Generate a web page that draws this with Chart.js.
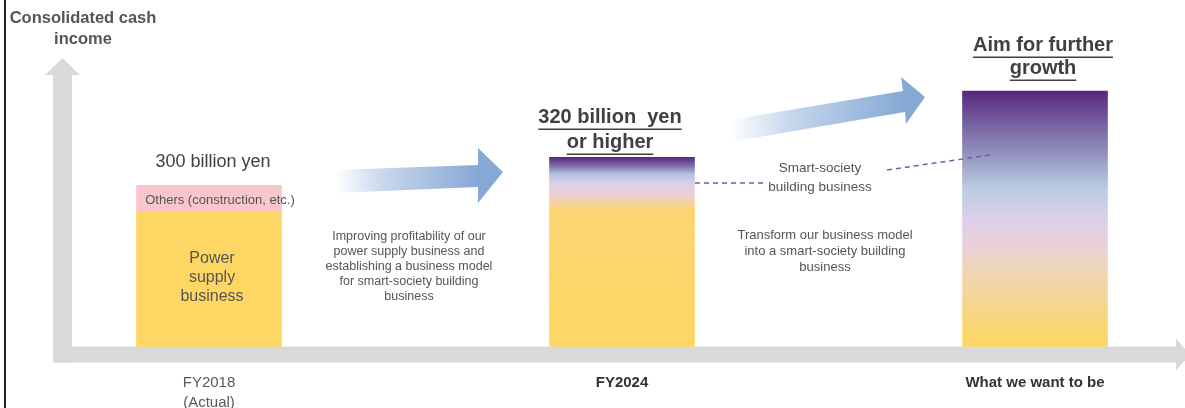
<!DOCTYPE html>
<html>
<head>
<meta charset="utf-8">
<script src="https://cdn.jsdelivr.net/npm/chart.js@4.4.0/dist/chart.umd.min.js"></script>
<style>
  html, body { margin: 0; padding: 0; background: #fff; }
  #wrap { width: 1185px; height: 408px; position: relative; }
</style>
</head>
<body>
<div id="wrap"><canvas id="cashChart"></canvas></div>
<script>
// categories along the bottom arrow
const categories = [['FY2018', '(Actual)'], 'FY2024', 'What we want to be'];

// bar heights as drawn (300 is the reference bar, the other two are schematic)
const powerSupply = [250, null, null];
const others = [50, null, null];
const outlook = [null, 352, 475];

// texts printed on / around the bars
const barLabels = [['300 billion yen'], ['320 billion  yen', 'or higher'], ['Aim for further', 'growth']];
const stepNotes = [
  ['Improving profitability of our', 'power supply business and', 'establishing a business model', 'for smart-society building', 'business'],
  ['Transform our business model', 'into a smart-society building', 'business']
];

const FONT = '"Liberation Sans", Arial, sans-serif';
const GREY = '#d9d9d9';

// gradient stops for the two outlook bars (top -> bottom)
const gradStops = {
  1: [[0, '#57277e'], [0.04, '#7a62a6'], [0.09, '#b4c3de'], [0.14, '#dacfea'], [0.2, '#eecfd0'], [0.28, '#fbd571'], [1, '#fdd663']],
  2: [[0, '#57277e'], [0.11, '#735a9c'], [0.22, '#8b88b8'], [0.38, '#b9cce2'], [0.49, '#dad0ea'], [0.6, '#e9d0dc'], [0.7, '#eed6b8'], [0.9, '#f9d67a'], [1, '#fdd663']]
};

function outlookColor(c) {
  const chart = c.chart;
  if (!chart.chartArea || c.raw == null) return '#fdd663';
  const y = chart.scales.y;
  const top = y.getPixelForValue(c.raw);
  const bottom = y.getPixelForValue(0);
  const g = chart.ctx.createLinearGradient(0, top, 0, bottom);
  (gradStops[c.dataIndex] || [[0, '#fdd663'], [1, '#fdd663']]).forEach(s => g.addColorStop(s[0], s[1]));
  return g;
}

function centerText(ctx, lines, x, y, lh, font, color, underline) {
  ctx.save();
  ctx.font = font;
  ctx.fillStyle = color;
  ctx.textAlign = 'center';
  ctx.textBaseline = 'middle';
  lines.forEach((t, i) => {
    const yy = y + i * lh;
    ctx.fillText(t, x, yy);
    if (underline) {
      const w = ctx.measureText(t).width;
      ctx.strokeStyle = color;
      ctx.lineWidth = 1.5;
      ctx.beginPath();
      ctx.moveTo(x - w / 2, yy + 12);
      ctx.lineTo(x + w / 2, yy + 12);
      ctx.stroke();
    }
  });
  ctx.restore();
}

function poly(ctx, pts, fill) {
  ctx.beginPath();
  pts.forEach((p, i) => i ? ctx.lineTo(p[0], p[1]) : ctx.moveTo(p[0], p[1]));
  ctx.closePath();
  ctx.fillStyle = fill;
  ctx.fill();
}

function blueArrow(ctx, pts, x0, x1) {
  const g = ctx.createLinearGradient(x0, 0, x1, 0);
  g.addColorStop(0, 'rgba(255,255,255,1)');
  g.addColorStop(0.35, '#c6d6ec');
  g.addColorStop(1, '#86a8d5');
  poly(ctx, pts, g);
}

function dashed(ctx, x0, y0, x1, y1) {
  ctx.save();
  ctx.strokeStyle = '#7d5a9e';
  ctx.lineWidth = 1.5;
  ctx.setLineDash([5, 4]);
  ctx.beginPath();
  ctx.moveTo(x0, y0);
  ctx.lineTo(x1, y1);
  ctx.stroke();
  ctx.restore();
}

const decor = {
  id: 'decor',
  beforeDatasetsDraw(chart) {
    const ctx = chart.ctx;
    const base = chart.chartArea.bottom;
    ctx.save();
    // frame line on the left
    ctx.fillStyle = '#222';
    ctx.fillRect(4, 0, 2, chart.height);
    // y axis arrow
    ctx.fillStyle = GREY;
    ctx.fillRect(53, 75, 19, base + 16 - 75);
    poly(ctx, [[45, 75], [62.5, 58], [80, 75]], GREY);
    // x axis arrow
    ctx.fillRect(53, base, 1124, 16);
    poly(ctx, [[1176, base - 8], [1190, base + 8], [1176, base + 24]], GREY);
    ctx.restore();
  },
  afterDatasetsDraw(chart) {
    const ctx = chart.ctx;
    const x = chart.scales.x, y = chart.scales.y;
    const bold = '700 20px ' + FONT;
    const dark = '#404040';

    // axis title
    centerText(ctx, ['Consolidated cash', 'income'], 83, 18, 21, '700 16.5px ' + FONT, '#555', false);

    // bar 1 texts
    const x1 = x.getPixelForValue(0);
    const top1 = y.getPixelForValue(powerSupply[0] + others[0]);
    centerText(ctx, barLabels[0], x1 + 4, top1 - 23, 20, '18px ' + FONT, dark, false);
    centerText(ctx, ['Others (construction, etc.)'], x1 + 11, y.getPixelForValue(powerSupply[0] + others[0] / 2) + 2, 16, '13px ' + FONT, '#555', false);
    centerText(ctx, ['Power', 'supply', 'business'], x1 + 3, 259, 19, '16px ' + FONT, '#555', false);

    // bar 2 and bar 3 titles
    const x2 = x.getPixelForValue(1);
    centerText(ctx, barLabels[1], x2 - 12, y.getPixelForValue(outlook[1]) - 40, 25, bold, dark, true);
    const x3 = x.getPixelForValue(2);
    centerText(ctx, barLabels[2], x3 + 8, y.getPixelForValue(outlook[2]) - 46, 23, bold, dark, true);

    // blue growth arrows
    blueArrow(ctx, [[335, 170], [478, 165], [478, 148], [503, 172], [478, 203], [478, 187], [335, 193]], 335, 478);
    blueArrow(ctx, [[730, 120], [903, 91], [901, 77], [925, 97], [906, 124], [905, 112], [730, 142]], 730, 905);

    // step notes
    centerText(ctx, stepNotes[0], 409, 237, 15, '12.5px ' + FONT, '#555', false);
    centerText(ctx, stepNotes[1], 825, 235, 16, '13px ' + FONT, '#555', false);

    // smart-society callout
    centerText(ctx, ['Smart-society', 'building business'], 820, 168, 19, '13.5px ' + FONT, '#555', false);
    dashed(ctx, x2 + 73, 183, 764, 183);
    dashed(ctx, 887, 170, 990, 155);
  }
};

new Chart(document.getElementById('cashChart'), {
  type: 'bar',
  data: {
    labels: categories,
    datasets: [
      { label: 'Power supply business', data: powerSupply, backgroundColor: '#fdd663', clip: false },
      { label: 'Others (construction, etc.)', data: others, backgroundColor: '#f8c6cb', clip: false },
      { label: 'Smart-society building business', data: outlook, backgroundColor: outlookColor, clip: false }
    ]
  },
  options: {
    responsive: true,
    maintainAspectRatio: false,
    animation: false,
    layout: { padding: { left: 209, right: 150, top: 24, bottom: -31 } },
    datasets: { bar: { barThickness: 145, borderWidth: 0, skipNull: true } },
    plugins: { legend: { display: false }, tooltip: { enabled: false } },
    scales: {
      x: {
        stacked: true,
        offset: false,
        grid: { display: false, drawTicks: false },
        border: { display: false },
        ticks: {
          padding: 26,
          maxRotation: 0,
          autoSkip: false,
          color: c => c.index === 0 ? '#595959' : '#333',
          font: c => ({ family: FONT, size: 15, weight: c.index === 0 ? 'normal' : 'bold', lineHeight: 1.35 })
        }
      },
      y: {
        display: false,
        stacked: true,
        min: 0,
        max: 600
      }
    }
  },
  plugins: [decor]
});
</script>
</body>
</html>
